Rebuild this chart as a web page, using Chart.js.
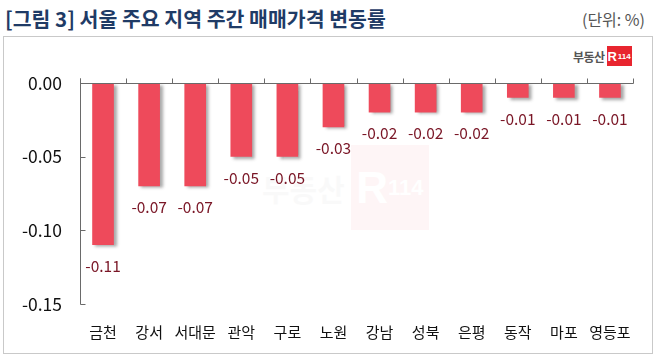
<!DOCTYPE html>
<html><head><meta charset="utf-8">
<script src="https://cdn.jsdelivr.net/npm/chart.js@4.4.1/dist/chart.umd.min.js"></script>
<style>
html,body{margin:0;padding:0;background:#fff;}
body{width:658px;height:358px;position:relative;overflow:hidden;font-family:"Noto Sans CJK KR","Noto Sans",sans-serif;}
#title{position:absolute;left:5px;top:5px;font-size:20.5px;font-weight:bold;color:#1F3B66;line-height:26px;white-space:nowrap;}
#unit{position:absolute;right:13px;top:8px;font-size:16px;color:#555;line-height:22px;}
#box{position:absolute;left:3px;top:36px;width:648px;height:316px;border:1px solid #c9c9c9;}
#logo{position:absolute;left:573px;top:46px;height:20px;display:flex;align-items:center;}
#logo .t{font-size:12px;font-weight:bold;color:#555;margin-right:2px;letter-spacing:-0.5px;}
#logo .r{background:#E8252F;color:#fff;width:25px;height:20px;display:flex;align-items:center;justify-content:center;font-weight:bold;font-size:13px;font-family:"Liberation Sans",sans-serif;}
#logo .r small{font-size:8px;margin-left:1px;}
#wm{position:absolute;left:262px;top:145px;display:flex;align-items:center;opacity:0.04;}
#wm .t{font-size:30px;font-weight:bold;color:#888;margin-right:6px;}
#wm .r{background:#E8252F;color:#fff;width:78px;height:85px;display:flex;align-items:center;justify-content:center;font-weight:bold;font-size:44px;font-family:"Liberation Sans",sans-serif;}
#wm .r small{font-size:22px;}
canvas{position:absolute;left:0;top:0;}
</style></head>
<body>
<div id="title">[그림 3] 서울 주요 지역 주간 매매가격 변동률</div>
<div id="unit">(단위: %)</div>
<div id="box"></div>
<div id="wm"><span class="t">부동산</span><span class="r">R<small>114</small></span></div>
<div id="logo"><span class="t">부동산</span><span class="r">R<small>114</small></span></div>
<canvas id="c" width="658" height="358"></canvas>
<script>
const categories = ["금천","강서","서대문","관악","구로","노원","강남","성북","은평","동작","마포","영등포"];
const changes = [-0.11,-0.07,-0.07,-0.05,-0.05,-0.03,-0.02,-0.02,-0.02,-0.01,-0.01,-0.01];
const yTicks = [0, -0.05, -0.10, -0.15];

const FONT = '"Noto Sans CJK KR","Noto Sans",sans-serif';

const shadowPlugin = {
  id:'shadow',
  beforeDatasetsDraw(chart){
    const ctx = chart.ctx; ctx.save();
    ctx.shadowColor='rgba(60,60,60,0.45)'; ctx.shadowOffsetX=3; ctx.shadowOffsetY=2; ctx.shadowBlur=3;
  },
  afterDatasetsDraw(chart){ chart.ctx.restore(); }
};

const axesPlugin = {
  id:'axesDraw',
  afterDraw(chart){
    const ctx = chart.ctx, ca = chart.chartArea;
    const xs = chart.scales.x, ys = chart.scales.y;
    const y0 = Math.round(ys.getPixelForValue(0)) + 0.5;
    const xl = Math.round(ca.left) + 0.5;
    ctx.save();
    ctx.strokeStyle = '#6a6a6a'; ctx.lineWidth = 1;
    ctx.beginPath();
    ctx.moveTo(xl, y0 - 5); ctx.lineTo(xl, Math.round(ys.getPixelForValue(-0.15)) + 0.5);
    yTicks.forEach(v=>{ if(v!==0){ const y=Math.round(ys.getPixelForValue(v))+0.5; ctx.moveTo(xl,y); ctx.lineTo(xl+5,y);} });
    ctx.moveTo(xl, y0); ctx.lineTo(Math.round(ca.right)+0.5, y0);
    const w = xs.getPixelForValue(1) - xs.getPixelForValue(0);
    for(let i=0;i<=categories.length;i++){
      const x = Math.round(xs.getPixelForValue(0) - w/2 + i*w) + 0.5;
      ctx.moveTo(x, y0); ctx.lineTo(x, y0-5);
    }
    ctx.stroke();
    ctx.fillStyle = '#7A1626';
    ctx.font = '15.5px ' + FONT;
    ctx.textAlign = 'center'; ctx.textBaseline = 'middle';
    const meta = chart.getDatasetMeta(0);
    meta.data.forEach((bar,i)=>{
      ctx.fillText(changes[i].toFixed(2), bar.x, bar.y + 21);
    });
    ctx.restore();
  }
};

new Chart(document.getElementById('c'), {
  type:'bar',
  data:{ labels: categories, datasets:[{ data: changes, backgroundColor:'#EE4A5B', borderWidth:0, categoryPercentage:1, barPercentage:0.47 }]},
  options:{
    responsive:false, animation:false,
    layout:{ padding:{ left:0, right:25, top:83, bottom:14 } },
    plugins:{ legend:{display:false}, tooltip:{enabled:false} },
    scales:{
      x:{ position:'bottom', grid:{display:false, drawTicks:false}, border:{display:false},
          ticks:{ color:'#111', font:{size:15, family:FONT}, padding:19, maxRotation:0, autoSkip:false },
          afterFit(s){ s.height = 40; } },
      y:{ min:-0.15, max:0, grid:{display:false, drawTicks:false}, border:{display:false},
          afterBuildTicks(s){ s.ticks = yTicks.map(v=>({value:v})); },
          ticks:{ color:'#111', font:{size:17.5, family:FONT}, padding:18, callback:v=>Number(v).toFixed(2) },
          afterFit(s){ s.width = 80; } }
    }
  },
  plugins:[shadowPlugin, axesPlugin]
});
</script>
</body></html>
